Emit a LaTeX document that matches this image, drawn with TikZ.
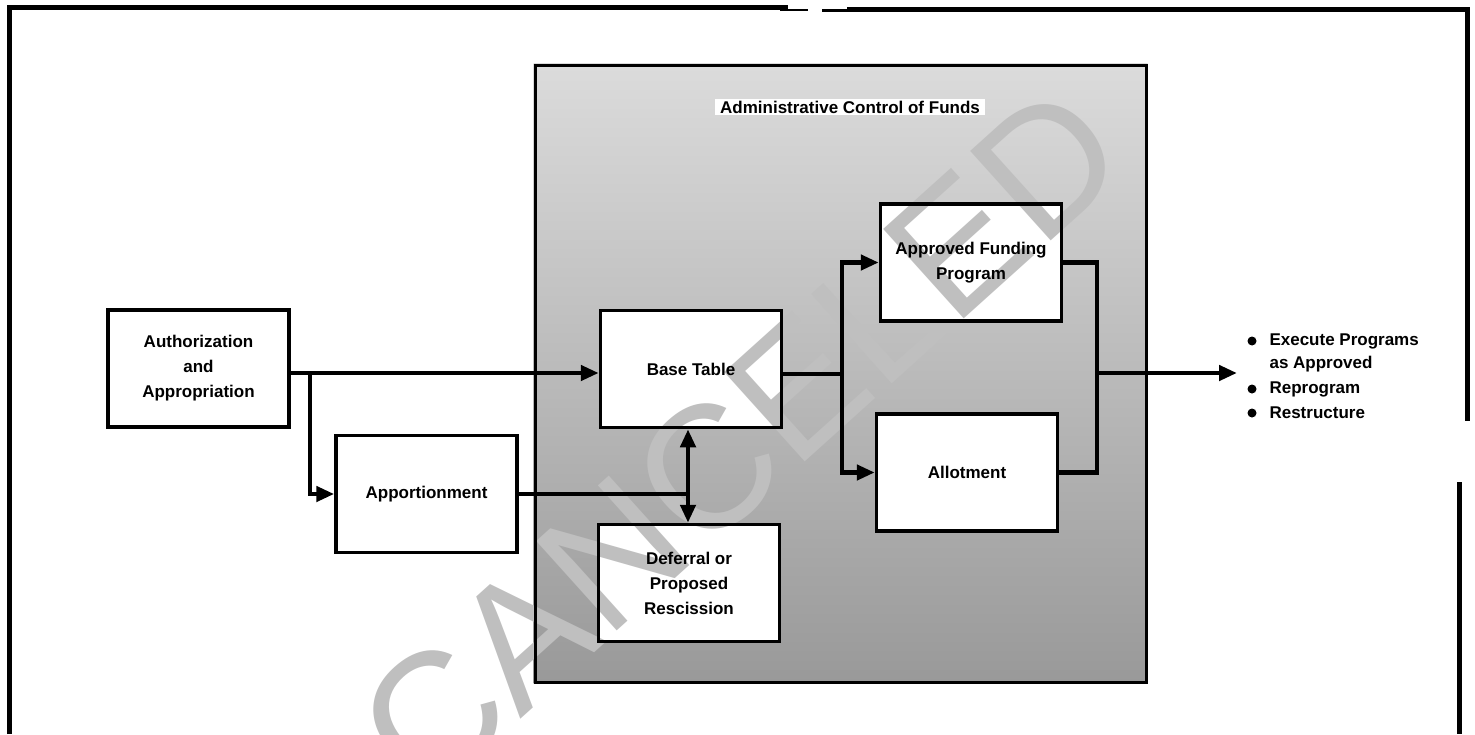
\documentclass[tikz,border=0pt]{standalone}
\usepackage{fontspec}
\setmainfont{Liberation Sans}
\usetikzlibrary{arrows.meta}
\pgfdeclarelayer{back}
\pgfdeclarelayer{mid}
\pgfsetlayers{back,mid,main}
\begin{document}
\begin{tikzpicture}[x=1pt,y=-1pt,
  lbl/.style={font=\bfseries\fontsize{17}{25}\selectfont},
  box/.style={lbl, draw, line width=3.5pt, minimum width=181pt, minimum height=117pt, inner sep=0pt, align=center},
  wire/.style={line width=4.5pt},
  conn/.style={wire, -{Triangle[length=18pt,width=15pt]}},
  biconn/.style={wire, {Triangle[length=18pt,width=15pt]}-{Triangle[length=18pt,width=15pt]}},
  dot/.style={circle, fill, inner sep=0pt, minimum size=9pt},
  frame/.style={line width=5pt}]
\useasboundingbox (0,0) rectangle (1475,734);

% outer frame
\draw[frame] (9,734) -- (9,7) -- (788,7);
\draw[line width=2pt] (780,10) -- (808,10);
\draw[line width=3pt] (822,10) -- (850,10);
\draw[frame] (847,9) -- (1467,9) -- (1467,421);
\draw[frame] (1459,482) -- (1459,734);

% shaded panel
\node[draw, line width=3pt, minimum width=611pt, minimum height=617pt, inner sep=0pt] (panel) at (840.5,373.5) {};
\node[lbl, fill=white, inner xsep=5pt, inner ysep=2pt] (title) at (850,107) {Administrative Control of Funds};

% boxes
\node[box] (auth) at (198.5,368.5) {Authorization\\and\\Appropriation};
\node[box] (base) at (691,369) {Base Table};
\node[box] (appo) at (426.5,494) {Apportionment};
\node[box] (defer) at (689,583) {Deferral or\\Proposed\\Rescission};
\node[box] (afp) at (971,262.5) {Approved Funding\\Program};
\node[box] (allot) at (967,472.5) {Allotment};

\begin{pgfonlayer}{back}
  \fill[top color=black!14, bottom color=black!40] (panel.north west) rectangle (panel.south east);
  \foreach \b in {auth,base,appo,defer,afp,allot}
    \fill[white] (\b.north west) rectangle (\b.south east);
\end{pgfonlayer}

\begin{pgfonlayer}{mid}
  \node[rotate=42, text=black!25, font=\fontsize{175}{175}\selectfont] (wm) at (740,440) {CANCELED};
\end{pgfonlayer}

% junction points
\coordinate (split) at (310,373);
\coordinate (tee) at (688,494);
\coordinate (fork) at (842,374);
\coordinate (merge) at (1097,373);
\coordinate (out) at (1237,373);

% connectors
\draw[conn] (auth.east |- split) -- (base.west |- split);
\draw[conn] (split) -- (split |- appo.west) -- (appo.west);
\draw[wire] (appo.east) -- (appo.east -| tee);
\draw[biconn] (base.south -| tee) -- (defer.north -| tee);
\draw[wire] (base.east |- fork) -- (fork);
\draw[conn] (fork) -- (fork |- afp.west) -- (afp.west);
\draw[conn] (fork) -- (fork |- allot.west) -- (allot.west);
\draw[wire] (afp.east) -- (afp.east -| merge) -- (allot.east -| merge) -- (allot.east);
\draw[conn] (merge) -- (out);

% outcomes
\node[lbl, anchor=west] (e1) at (1266,341) {Execute Programs};
\node[lbl, anchor=west] (e2) at (1266,364) {as Approved};
\node[lbl, anchor=west] (e3) at (1266,389) {Reprogram};
\node[lbl, anchor=west] (e4) at (1266,413) {Restructure};
\node[dot] (d1) at (1252,341) {};
\node[dot] (d3) at (1252,389) {};
\node[dot] (d4) at (1252,413) {};
\end{tikzpicture}
\end{document}
